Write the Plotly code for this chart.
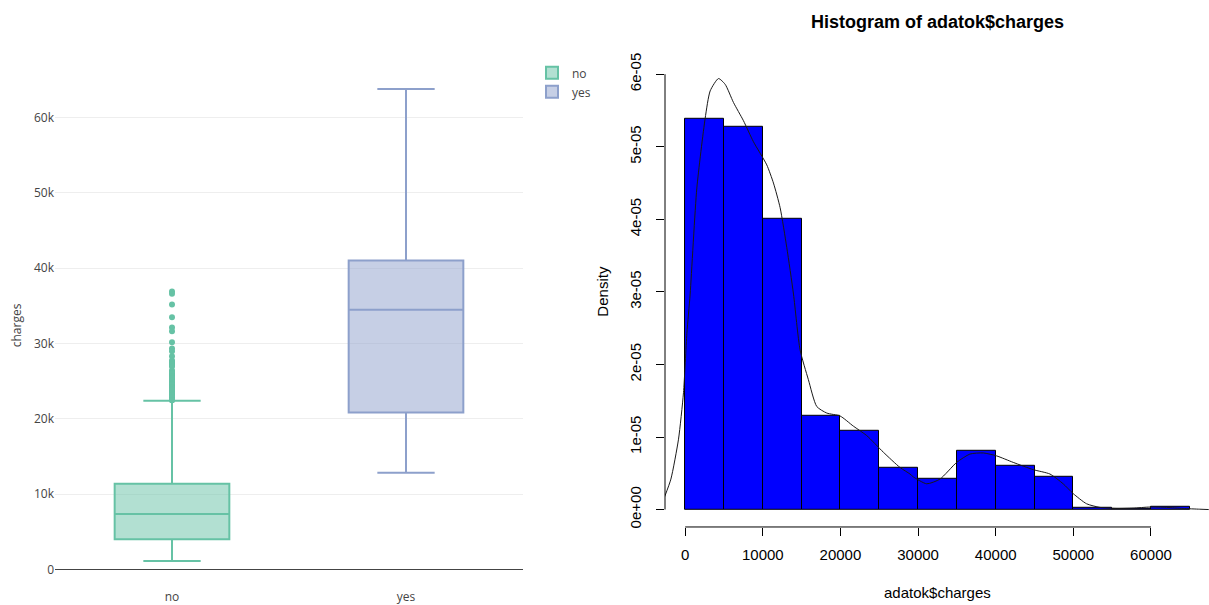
import plotly.graph_objects as go

W, H = 1209, 605

# ---------------- data: left box plot (charges by smoker) ----------------
smoker_cats = ["no", "yes"]
box_q1 = [3986, 20826]
box_median = [7345, 34456]
box_q3 = [11363, 41019]
box_lowerfence = [1122, 12829]
box_upperfence = [22395, 63770]
box_colors = ["#66c2a5", "#8da0cb"]
box_fills = ["rgba(102,194,165,0.5)", "rgba(141,160,203,0.5)"]

no_outliers = [36910, 36580, 35160, 33472, 32109, 31620, 30167, 29331, 28950,
               28288, 27725, 27534, 27376, 27346, 27218, 27118, 26926, 26392,
               26237, 26140, 26019, 25993, 25679, 25657, 25517, 25382, 25333,
               25082, 24915, 24873, 24672, 24667, 24603, 24536, 24520, 24513,
               24476, 24227, 24181, 24107, 24060, 23967, 23888, 23807, 23568,
               23401, 23306, 23289, 23245, 23083, 23065, 23046, 22879, 22493,
               22479, 22462]

left_tickvals = [0, 10000, 20000, 30000, 40000, 50000, 60000]
left_ticktext = ["0", "10k", "20k", "30k", "40k", "50k", "60k"]

# ---------------- data: right histogram (density) ----------------
bin_starts = [0, 5000, 10000, 15000, 20000, 25000, 30000, 35000, 40000,
              45000, 50000, 55000, 60000]
bin_width = 5000
bin_density = [5.38e-5, 5.28e-5, 4.01e-5, 1.29e-5, 1.08e-5, 0.57e-5, 0.43e-5,
               0.81e-5, 0.61e-5, 0.45e-5, 0.03e-5, 0.015e-5, 0.045e-5]

dens_x = [-2660, -1840, -860, -220, 220, 640, 1500, 2570, 3220, 4290, 5150,
          6220, 7500, 8790, 10510, 11370, 12230, 13090, 13950, 14800, 15870,
          16950, 18240, 19950, 21660, 23380, 25530, 27670, 28960, 29390, 31110,
          32820, 34970, 36680, 38400, 40110, 42260, 44830, 46980, 48690, 49980,
          51700, 53410, 55560, 57700, 59850, 62000, 64140, 66280, 67440]
dens_y = [1.73e-6, 4.2e-6, 9.7e-6, 1.61e-5, 2.43e-5, 2.97e-5, 4.43e-5, 5.39e-5,
          5.77e-5, 5.94e-5, 5.86e-5, 5.61e-5, 5.36e-5, 5.07e-5, 4.75e-5, 4.5e-5,
          4.16e-5, 3.61e-5, 2.97e-5, 2.2e-5, 1.79e-5, 1.42e-5, 1.33e-5, 1.29e-5,
          1.15e-5, 1.02e-5, 7.9e-6, 5.8e-6, 4.9e-6, 4.5e-6, 3.55e-6, 4.2e-6,
          6.5e-6, 7.65e-6, 7.8e-6, 7.4e-6, 6.5e-6, 5.5e-6, 4.9e-6, 3.55e-6,
          2.2e-6, 8e-7, 3e-7, 1.5e-7, 2e-7, 3.5e-7, 3e-7, 1.5e-7, 5e-8, 0]

right_xtickvals = [0, 10000, 20000, 30000, 40000, 50000, 60000]
right_xticktext = ["0", "10000", "20000", "30000", "40000", "50000", "60000"]
right_ytickvals = [0, 1e-5, 2e-5, 3e-5, 4e-5, 5e-5, 6e-5]
right_yticktext = ["0e+00", "1e-05", "2e-05", "3e-05", "4e-05", "5e-05", "6e-05"]


def px(x):
    return x / W


def py(y):
    return 1 - y / H


fig = go.Figure()

for i, cat in enumerate(smoker_cats):
    fig.add_trace(go.Box(
        name=cat, x=[cat], q1=[box_q1[i]], median=[box_median[i]],
        q3=[box_q3[i]], lowerfence=[box_lowerfence[i]],
        upperfence=[box_upperfence[i]],
        line=dict(color=box_colors[i], width=2),
        fillcolor=box_fills[i], marker=dict(color=box_colors[i]),
        xaxis="x", yaxis="y", hoverinfo="y"))

fig.add_trace(go.Scatter(
    x=["no"] * len(no_outliers), y=no_outliers, mode="markers",
    marker=dict(color=box_colors[0], size=6), showlegend=False,
    xaxis="x", yaxis="y"))

bin_mid = [s + bin_width / 2 for s in bin_starts]
fig.add_trace(go.Bar(
    x=bin_mid, y=bin_density, width=bin_width,
    marker=dict(color="#0000FF", line=dict(color="black", width=1)),
    showlegend=False, xaxis="x2", yaxis="y2"))

fig.add_trace(go.Scatter(
    x=dens_x, y=dens_y, mode="lines",
    line=dict(color="#1a1a1a", width=1, shape="spline", smoothing=0.6),
    showlegend=False, xaxis="x2", yaxis="y2"))

rfont = dict(family="Liberation Sans, Arial, sans-serif", size=15, color="black")

fig.update_layout(
    width=W, height=H,
    margin=dict(l=0, r=0, t=0, b=0),
    paper_bgcolor="white", plot_bgcolor="white",
    font=dict(family="Open Sans, sans-serif", size=12, color="#444"),
    bargap=0,
    legend=dict(x=px(532), y=py(55), xanchor="left", yanchor="top",
                font=dict(size=12, color="#444")),
    xaxis=dict(domain=[px(55), px(523)], anchor="y", type="category",
               categoryorder="array", categoryarray=smoker_cats,
               showgrid=False, zeroline=False, showline=False, ticks="",
               tickfont=dict(size=12, color="#444"), ticklabelstandoff=5),
    yaxis=dict(domain=[py(586), py(64)], anchor="x", range=[-1837, 66667],
               tickvals=left_tickvals, ticktext=left_ticktext,
               showgrid=True, gridcolor="#eee", gridwidth=1,
               zeroline=True, zerolinecolor="#444", zerolinewidth=1,
               showline=False, ticks="", tickfont=dict(size=12, color="#444")),
    xaxis2=dict(domain=[px(665), 1.0], anchor="y2", range=[-2600, 67473],
                tickvals=right_xtickvals, ticktext=right_xticktext,
                showgrid=False, zeroline=False, showline=False,
                ticks="outside", ticklen=8, tickcolor="black", tickwidth=1,
                tickfont=rfont, ticklabelstandoff=6),
    yaxis2=dict(domain=[py(529.1), py(53.4)], anchor="x2",
                range=[-2.4e-6, 6.24e-5],
                tickvals=right_ytickvals, ticktext=right_yticktext,
                tickangle=-90, showgrid=False, zeroline=False, showline=False,
                ticks="outside", ticklen=8, tickcolor="black", tickwidth=1,
                tickfont=rfont, ticklabelstandoff=9),
)

# R-style axis lines spanning only from first to last tick
fig.add_shape(type="line", xref="x2", yref="y2 domain",
              x0=min(right_xtickvals), x1=max(right_xtickvals), y0=0, y1=0,
              line=dict(color="black", width=1))
fig.add_shape(type="line", xref="x2 domain", yref="y2",
              x0=0, x1=0, y0=min(right_ytickvals), y1=max(right_ytickvals),
              line=dict(color="black", width=1))

fig.add_annotation(text="charges", x=px(16), y=py(325), xref="paper",
                   yref="paper", textangle=-90, showarrow=False,
                   xanchor="center", yanchor="middle",
                   font=dict(family="Open Sans, sans-serif", size=12, color="#444"))
fig.add_annotation(text="<b>Histogram of adatok$charges</b>", x=px(937),
                   y=py(18), xref="paper", yref="paper", showarrow=False,
                   xanchor="center", yanchor="middle",
                   font=dict(family="Liberation Sans, Arial, sans-serif",
                             size=18, color="black"))
fig.add_annotation(text="adatok$charges", x=px(937), y=py(595), xref="paper",
                   yref="paper", showarrow=False, xanchor="center",
                   yanchor="middle", font=rfont)
fig.add_annotation(text="Density", x=px(603), y=py(291), xref="paper",
                   yref="paper", textangle=-90, showarrow=False,
                   xanchor="center", yanchor="middle", font=rfont)

fig.write_html(
    "out.html",
    config={"displayModeBar": False},
    post_script="document.body.style.margin='0';document.body.style.overflow='hidden';",
)
